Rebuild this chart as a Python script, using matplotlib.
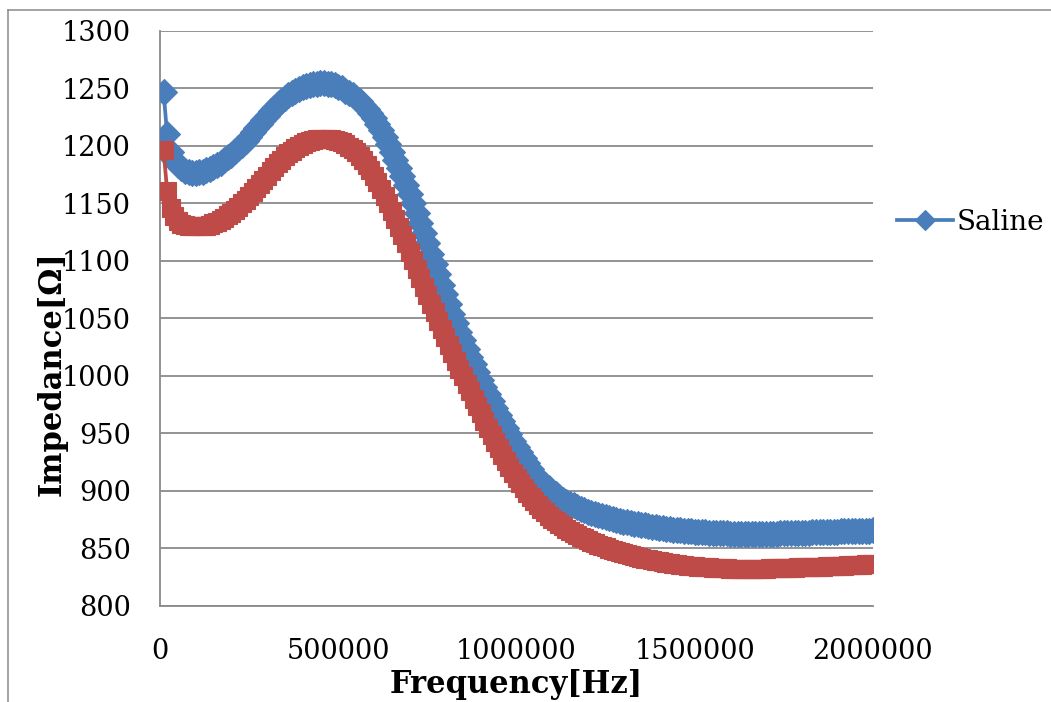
import numpy as np
import matplotlib
matplotlib.use("Agg")
import matplotlib.pyplot as plt
from matplotlib.lines import Line2D

# Frequency grid [Hz]: 10 kHz to 2 MHz in 10 kHz steps
freq_hz = np.arange(10000, 2000001, 10000)

# Saline impedance [Ohm] (blue diamonds)
saline = [
    1247, 1210, 1195, 1188, 1183.5, 1180.5, 1178.5, 1177.3, 1176.8, 1176.7,
    1177, 1177.7, 1178.7, 1180, 1181.6, 1183.4, 1185.4, 1187.6, 1190, 1192.6,
    1195.3, 1198.2, 1201.2, 1204.6, 1208.2, 1211.8, 1215.5, 1219.2, 1222.9, 1226.5,
    1230, 1233.2, 1236.2, 1239, 1241.5, 1244, 1246, 1248, 1249.5, 1251,
    1252, 1253, 1253.7, 1254.2, 1254.5, 1254.5, 1254.2, 1253.6, 1252.7, 1251.5,
    1250, 1248.2, 1246.2, 1244, 1241.5, 1238.8, 1235.8, 1232.5, 1228.5, 1224,
    1219, 1213.5, 1207.5, 1201.5, 1195, 1188, 1181, 1173.5, 1166, 1158,
    1150, 1141.5, 1133, 1124.5, 1115.5, 1106.5, 1097.5, 1088.5, 1079.5, 1071,
    1062.5, 1054, 1046, 1038.5, 1031, 1023.8, 1016.8, 1010, 1003.3, 996.8,
    990.5, 984.3, 978.2, 972.2, 966.3, 960.5, 954.8, 949.2, 943.8, 938.6,
    933.6, 928.8, 924.2, 919.5, 915, 911.5, 908.2, 905.1, 902.2, 899.5,
    897, 894.7, 892.6, 890.7, 889, 887.4, 885.9, 884.5, 883.2, 882,
    880.9, 879.9, 878.9, 878, 877.1, 876.3, 875.5, 874.8, 874.1, 873.4,
    872.8, 872.2, 871.6, 871.1, 870.6, 870.1, 869.6, 869.1, 868.6, 868.1,
    867.7, 867.3, 866.9, 866.5, 866.1, 865.8, 865.5, 865.2, 864.9, 864.6,
    864.4, 864.2, 864, 863.8, 863.6, 863.4, 863.3, 863.2, 863.1, 863,
    862.9, 862.8, 862.8, 862.7, 862.7, 862.7, 862.7, 862.7, 862.7, 862.8,
    862.8, 862.9, 863, 863.1, 863.2, 863.3, 863.4, 863.5, 863.6, 863.7,
    863.8, 863.9, 864, 864.1, 864.2, 864.3, 864.4, 864.5, 864.6, 864.7,
    864.8, 864.9, 865, 865.1, 865.2, 865.3, 865.4, 865.5, 865.6, 865.7,
]

# Second series impedance [Ohm] (red squares)
series2 = [
    1196.5, 1161, 1146, 1139, 1135, 1132.5, 1131.2, 1130.4, 1130.1, 1130,
    1130, 1130.3, 1130.8, 1131.6, 1132.7, 1134.1, 1135.8, 1137.7, 1139.8, 1142.1,
    1144.6, 1147.2, 1150, 1153, 1156.2, 1159.6, 1163.2, 1166.8, 1170.5, 1174.2,
    1177.9, 1181.4, 1184.8, 1188, 1190.9, 1193.6, 1196, 1198.3, 1200.2, 1201.8,
    1203.1, 1204.2, 1205.1, 1205.8, 1206.3, 1206.5, 1206.5, 1206.2, 1205.6, 1204.6,
    1203.2, 1201.5, 1199.4, 1197, 1194.5, 1191.3, 1187.7, 1183.6, 1179, 1174,
    1168.6, 1162.8, 1156.7, 1150.3, 1143.7, 1136.9, 1129.9, 1122.7, 1115.4, 1108,
    1100.5, 1093, 1085.4, 1077.8, 1070.3, 1062.8, 1055.4, 1048.1, 1040.9, 1033.8,
    1026.8, 1019.9, 1013.1, 1006.4, 999.9, 993.4, 986.9, 980.4, 974, 967.6,
    961.3, 955.1, 949, 943, 937.2, 931.6, 926.2, 921, 916, 911.2,
    906.7, 902.4, 898.4, 894.6, 891, 887.6, 884.4, 881.4, 878.6, 876,
    873.6, 871.4, 869.3, 867.3, 865.4, 863.6, 861.9, 860.3, 858.8, 857.4,
    856, 854.7, 853.4, 852.2, 851, 849.9, 848.8, 847.8, 846.8, 845.9,
    845, 844.2, 843.4, 842.6, 841.9, 841.2, 840.5, 839.9, 839.3, 838.7,
    838.2, 837.7, 837.2, 836.7, 836.3, 835.9, 835.5, 835.1, 834.8, 834.5,
    834.2, 833.9, 833.7, 833.5, 833.3, 833.1, 832.9, 832.8, 832.7, 832.6,
    832.5, 832.4, 832.4, 832.4, 832.4, 832.4, 832.4, 832.5, 832.5, 832.6,
    832.7, 832.8, 832.9, 833, 833.1, 833.2, 833.3, 833.4, 833.5, 833.6,
    833.7, 833.8, 833.9, 834, 834.1, 834.3, 834.4, 834.6, 834.7, 834.9,
    835, 835.2, 835.3, 835.5, 835.6, 835.8, 835.9, 836.1, 836.2, 836.4,
]

x_ticks = [0, 500000, 1000000, 1500000, 2000000]
y_ticks = [800, 850, 900, 950, 1000, 1050, 1100, 1150, 1200, 1250, 1300]
legend_label = "Saline"
x_label = "Frequency[Hz]"
y_label = "Impedance[Ω]"

BLUE = "#4A7EBB"
RED = "#BE4B48"
GRAY = "#8A8A8A"

plt.rcParams["font.family"] = ["DejaVu Serif"]

W, H = 1051, 702
fig = plt.figure(figsize=(W / 100, H / 100), dpi=100)
ax = fig.add_axes([160 / W, 1 - 606 / H, (873 - 160) / W, (606 - 31) / H])

line_b, = ax.plot(freq_hz, saline, color=BLUE, lw=2.7, marker="D", ms=13.5,
                  mfc=BLUE, mec=BLUE, mew=0.8, zorder=3)
ax.plot(freq_hz, series2, color=RED, lw=2.7, marker="s", ms=13.5,
        mfc=RED, mec=RED, mew=0.8, zorder=4)

ax.set_xlim(0, 2000000)
ax.set_ylim(800, 1300)
ax.set_xticks(x_ticks)
ax.set_xticklabels([str(v) for v in x_ticks])
ax.set_yticks(y_ticks)
ax.set_yticklabels([str(v) for v in y_ticks])
ax.tick_params(axis="both", length=0, labelsize=19.5, colors="black")
ax.tick_params(axis="y", pad=21)
ax.tick_params(axis="x", pad=23)

ax.yaxis.grid(True, color=GRAY, lw=1.3)
ax.xaxis.grid(False)
ax.set_axisbelow(True)
for s in ("top", "right"):
    ax.spines[s].set_visible(False)
for s in ("left", "bottom"):
    ax.spines[s].set_color(GRAY)
    ax.spines[s].set_linewidth(1.3)

fig.text(516 / W, 1 - 693 / H, x_label, ha="center", va="baseline",
         fontsize=22, fontweight="bold")
fig.text(52 / W, 1 - 374 / H, y_label, ha="center", va="center",
         rotation=90, fontsize=22, fontweight="bold")

ax.legend([line_b], [legend_label], loc="center left",
          bbox_to_anchor=(897 / W, 1 - 222 / H), bbox_transform=fig.transFigure,
          frameon=False, borderpad=0, borderaxespad=0, handlelength=2.0,
          handletextpad=0.15, fontsize=20, markerscale=0.75)

# outer chart-area border (partially cropped)
fig.add_artist(Line2D([8 / W, 8 / W], [0, 1 - 10 / H], color=GRAY, lw=1.1))
fig.add_artist(Line2D([8 / W, 1], [1 - 10 / H, 1 - 10 / H], color=GRAY, lw=1.1))

fig.savefig("out.png", dpi=100)
